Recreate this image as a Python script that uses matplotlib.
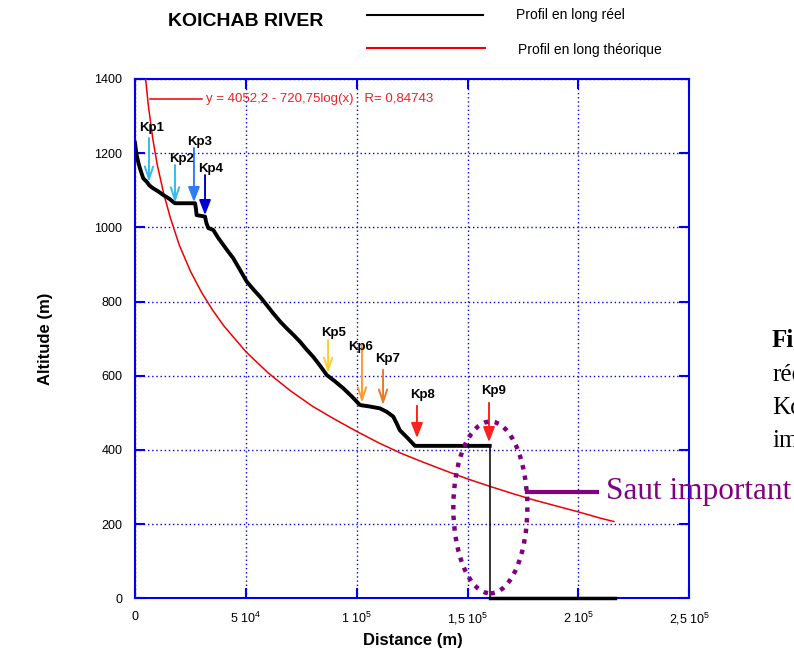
import matplotlib
matplotlib.use("Agg")
from matplotlib import pyplot as plt
from matplotlib.patches import Ellipse
from matplotlib.lines import Line2D

plt.rcParams['font.family'] = ['Liberation Sans', 'DejaVu Sans']
plt.rcParams['mathtext.fontset'] = 'custom'
plt.rcParams['mathtext.rm'] = 'Liberation Sans'
plt.rcParams['mathtext.it'] = 'Liberation Sans'

# profil en long réel (distance m, altitude m)
real_x = [0, 500, 770, 1500, 2250, 3000, 3750, 5280, 6500, 8250, 10500, 12800,
          15500, 18000, 27100, 27500, 27800, 31600, 32200, 33100, 35300, 37500,
          39800, 42000, 44300, 47500, 50400, 53500, 56400, 59500, 62400, 65500,
          68400, 71500, 74400, 77500, 80400, 83500, 86500, 90000, 94000, 98000,
          101500, 106000, 110500, 113500, 116500, 118000, 119500, 123000,
          126300, 160000]
real_y = [1228, 1205, 1195, 1175, 1159, 1145, 1132, 1123, 1113, 1105, 1097, 1087,
          1077, 1065, 1065, 1050, 1033, 1029, 1012, 998, 993, 972,
          953, 935, 917, 884, 854, 832, 813, 790, 768, 746,
          728, 710, 692, 670, 651, 627, 602, 586, 566, 543,
          521, 517, 512, 503, 490, 472, 453, 432,
          411, 411]
jump_x = [160000, 160000]
jump_y = [411, 0]
bottom_x = [160000, 216500]
bottom_y = [0, 0]

# profil en long théorique
theo_x = [4800, 6000, 8000, 10000, 13000, 16000, 20000, 25000, 30000, 35000,
          40000, 50000, 60000, 70000, 80000, 90000, 100000, 110000, 120000,
          130000, 140000, 150000, 160000, 170000, 180000, 190000, 200000,
          210000, 216000]
theo_y = [1400, 1330, 1240, 1170, 1090, 1025, 952, 882, 825, 777,
          735, 665, 608, 560, 518, 483, 450, 419, 391,
          367, 344, 322, 302, 283, 265, 249, 233,
          216, 207]

# knickpoints: label, label pos, arrow start, arrow end, colour, head
kp_labels = ['Kp1', 'Kp2', 'Kp3', 'Kp4', 'Kp5', 'Kp6', 'Kp7', 'Kp8', 'Kp9']
kp_text = [(7670, 1268), (21200, 1184), (29300, 1230), (34300, 1158),
           (89800, 715), (101900, 678), (114100, 646), (129500, 548),
           (161900, 559)]
kp_x = [6320, 18040, 26600, 31600, 87100, 102400, 111900, 127200, 159700]
kp_top = [1241, 1168, 1214, 1141, 696, 683, 616, 519, 527]
kp_tip = [1122, 1066, 1068, 1033, 607, 527, 521, 432, 421]
kp_colors = ['#33bbee', '#33bbee', '#2f7cff', '#0000cc', '#ffcc33',
             '#ff9933', '#ee7722', '#ff2020', '#ff2020']
kp_filled = [False, False, True, True, False, False, False, True, True]

x_ticks = [0, 50000, 100000, 150000, 200000, 250000]
x_ticklabels = ['0', '5 10$^{4}$', '1 10$^{5}$', '1,5 10$^{5}$', '2 10$^{5}$', '2,5 10$^{5}$']
y_ticks = [0, 200, 400, 600, 800, 1000, 1200, 1400]

blue = '#0000ee'
purple = '#800080'

fig = plt.figure(figsize=(7.94, 6.5), dpi=100)
ax = fig.add_axes([0.170, 0.0795, 0.698, 0.799])

ax.plot(theo_x, theo_y, color='#ee0000', lw=1.1, zorder=3)
ax.plot(real_x, real_y, color='black', lw=2.8, zorder=4)
ax.plot(jump_x, jump_y, color='black', lw=1.1, zorder=4)
ax.plot(bottom_x, bottom_y, color='black', lw=2.5, zorder=4, clip_on=False)

# equation of the fitted curve
ax.plot([6770, 30100], [1346, 1346], color='#ee0000', lw=1.1)
ax.text(32000, 1346, 'y = 4052,2 - 720,75log(x)   R= 0,84743', color='#ee2020',
        fontsize=9.5, va='center', ha='left')

for lab, tp, x, y0, y1, c, filled in zip(kp_labels, kp_text, kp_x, kp_top, kp_tip,
                                         kp_colors, kp_filled):
    if filled:
        style = '-|>,head_length=0.9,head_width=0.35'
    else:
        style = '->,head_length=0.9,head_width=0.3'
    ax.annotate('', xy=(x, y1), xytext=(x, y0),
                arrowprops=dict(arrowstyle=style, color=c, lw=1.4,
                                shrinkA=0, shrinkB=0), zorder=5)
    ax.text(tp[0], tp[1], lab, fontsize=9.5, fontweight='bold', ha='center',
            va='center', zorder=6)

# saut important
ax.add_patch(Ellipse((160300, 245), 33400, 463, fill=False, edgecolor=purple,
                     lw=3.2, linestyle=(0, (1, 1.4)), zorder=6))
ax.plot([176700, 208300], [287, 287], color=purple, lw=3, zorder=6, clip_on=False)
ax.text(212500, 287, 'Saut important', color=purple, fontsize=22.5,
        family='Liberation Serif', va='center', ha='left', clip_on=False, zorder=7)

ax.set_xlim(0, 250000)
ax.set_ylim(0, 1400)
ax.set_xticks(x_ticks)
ax.set_xticklabels(x_ticklabels)
ax.set_yticks(y_ticks)
ax.tick_params(direction='in', length=7, width=1.5, color=blue, labelsize=9,
               top=True, right=True, pad=9)
ax.grid(True, color=blue, linestyle=(0, (1, 2)), lw=1)
for s in ax.spines.values():
    s.set_color(blue)
    s.set_linewidth(1.5)

ax.set_xlabel('Distance (m)', fontsize=12, fontweight='bold')
ax.xaxis.set_label_coords(0.502, -0.066)
ax.set_ylabel('Altitude (m)', fontsize=12, fontweight='bold')
ax.yaxis.set_label_coords(-0.148, 0.5)

# header: title and legend
fig.text(246 / 794, 1 - 22 / 650, 'KOICHAB RIVER', fontsize=14, fontweight='bold',
         ha='center', va='center')
fig.add_artist(Line2D([367 / 794, 483 / 794], [1 - 15 / 650] * 2, color='black', lw=1.5))
fig.add_artist(Line2D([367 / 794, 485 / 794], [1 - 48 / 650] * 2, color='#ee0000', lw=1.5))
fig.text(516 / 794, 1 - 15 / 650, 'Profil en long réel', fontsize=10, ha='left', va='center')
fig.text(518 / 794, 1 - 50 / 650, 'Profil en long théorique', fontsize=10, ha='left', va='center')

# caption text cut at the right edge
fig.text(772 / 794, 1 - 347 / 650, 'Figure', fontsize=18, fontweight='bold',
         family='Liberation Serif', ha='left', va='baseline')
fig.text(772 / 794, 1 - 381 / 650, 'réel', fontsize=18,
         family='Liberation Serif', ha='left', va='baseline')
fig.text(772 / 794, 1 - 414 / 650, 'Koichab', fontsize=18,
         family='Liberation Serif', ha='left', va='baseline')
fig.text(772 / 794, 1 - 447 / 650, 'important', fontsize=18,
         family='Liberation Serif', ha='left', va='baseline')

fig.savefig('out.png', dpi=100)
